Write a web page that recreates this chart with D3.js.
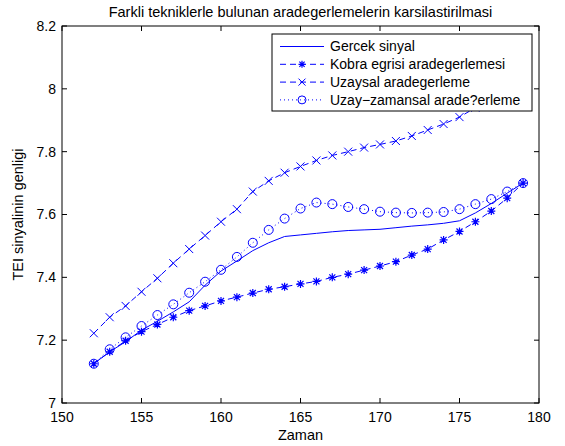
<!DOCTYPE html>
<html>
<head>
<meta charset="utf-8">
<script src="https://cdn.jsdelivr.net/npm/d3@7"></script>
<style>
  body { margin: 0; background: #fff; }
  text { font-family: "Liberation Sans", Arial, sans-serif; fill: #000; }
</style>
</head>
<body>
<svg id="chart" width="565" height="446"></svg>
<script>
const zaman = d3.range(152, 180);

const gercek = [7.125, 7.163, 7.195, 7.232, 7.26, 7.29, 7.322, 7.375, 7.42, 7.452, 7.485, 7.51, 7.53,
  7.535, 7.54, 7.545, 7.549, 7.551, 7.553, 7.558, 7.563, 7.567, 7.572, 7.58, 7.605, 7.635, 7.668, 7.70];

const kobra = [7.125, 7.163, 7.198, 7.227, 7.25, 7.273, 7.294, 7.309, 7.325, 7.337, 7.35, 7.362, 7.37,
  7.379, 7.387, 7.40, 7.41, 7.423, 7.436, 7.45, 7.471, 7.49, 7.519, 7.546, 7.577, 7.611, 7.652, 7.70];

const uzaysal = [7.222, 7.273, 7.309, 7.354, 7.397, 7.445, 7.49, 7.533, 7.577, 7.617, 7.673, 7.707, 7.733,
  7.753, 7.772, 7.788, 7.80, 7.813, 7.823, 7.834, 7.85, 7.869, 7.888, 7.91, 7.94, 7.97, 8.0, 8.03];

const uzayZamansal = [7.125, 7.171, 7.209, 7.245, 7.28, 7.314, 7.351, 7.386, 7.424, 7.465, 7.51, 7.551, 7.587,
  7.619, 7.638, 7.633, 7.624, 7.617, 7.609, 7.606, 7.605, 7.606, 7.608, 7.617, 7.633, 7.649, 7.673, 7.70];

const xTicks = [150, 155, 160, 165, 170, 175, 180];
const yTicks = [7, 7.2, 7.4, 7.6, 7.8, 8, 8.2];

const legendNames = ["Gercek sinyal", "Kobra egrisi aradegerlemesi", "Uzaysal aradegerleme", "Uzay\u2212zamansal arade?erleme"];

const blue = "#0000ff";
const margin = { top: 26, right: 26, bottom: 43, left: 62 };
const width = 565, height = 446;
const plotW = width - margin.left - margin.right;
const plotH = height - margin.top - margin.bottom;

const svg = d3.select("#chart");

const x = d3.scaleLinear().domain([150, 180]).range([0, plotW]);
const y = d3.scaleLinear().domain([7, 8.2]).range([plotH, 0]);

const g = svg.append("g").attr("transform", `translate(${margin.left},${margin.top})`);

const series = [
  { name: legendNames[0], values: gercek, dash: null, marker: null },
  { name: legendNames[1], values: kobra, dash: "6,4", marker: "star" },
  { name: legendNames[2], values: uzaysal, dash: "6,4", marker: "x" },
  { name: legendNames[3], values: uzayZamansal, dash: "1,3", marker: "circle" }
];

const line = d3.line().x(d => x(d[0])).y(d => y(d[1]));

function drawMarker(sel, type, cx, cy, s = 4) {
  if (type === "circle") {
    sel.append("circle").attr("cx", cx).attr("cy", cy).attr("r", s + 0.5)
      .attr("fill", "none").attr("stroke", blue).attr("stroke-width", 1);
  } else if (type === "x") {
    sel.append("path")
      .attr("d", `M${cx - s},${cy - s}L${cx + s},${cy + s}M${cx - s},${cy + s}L${cx + s},${cy - s}`)
      .attr("stroke", blue).attr("stroke-width", 1).attr("fill", "none");
  } else if (type === "star") {
    const d = s * 0.75;
    sel.append("path")
      .attr("d", `M${cx - s},${cy}L${cx + s},${cy}M${cx},${cy - s}L${cx},${cy + s}` +
        `M${cx - d},${cy - d}L${cx + d},${cy + d}M${cx - d},${cy + d}L${cx + d},${cy - d}`)
      .attr("stroke", blue).attr("stroke-width", 1.2).attr("fill", "none");
  }
}

const plot = g.append("g");

series.forEach(s => {
  const pts = zaman.map((t, i) => [t, s.values[i]]);
  plot.append("path")
    .datum(pts)
    .attr("d", line)
    .attr("fill", "none")
    .attr("stroke", blue)
    .attr("stroke-width", 1)
    .attr("stroke-dasharray", s.dash);
  if (s.marker) {
    pts.forEach(p => drawMarker(plot, s.marker, x(p[0]), y(p[1])));
  }
});

// axes box, ticks pointing inward on all four sides
const axisG = g.append("g");
axisG.append("rect").attr("width", plotW).attr("height", plotH)
  .attr("fill", "none").attr("stroke", "#000").attr("stroke-width", 1);

const tickLen = 5;
xTicks.forEach(t => {
  axisG.append("line").attr("x1", x(t)).attr("x2", x(t)).attr("y1", plotH).attr("y2", plotH - tickLen).attr("stroke", "#000");
  axisG.append("line").attr("x1", x(t)).attr("x2", x(t)).attr("y1", 0).attr("y2", tickLen).attr("stroke", "#000");
  axisG.append("text").attr("x", x(t)).attr("y", plotH + 19)
    .attr("text-anchor", "middle").attr("font-size", 14).text(t);
});
yTicks.forEach(t => {
  axisG.append("line").attr("x1", 0).attr("x2", tickLen).attr("y1", y(t)).attr("y2", y(t)).attr("stroke", "#000");
  axisG.append("line").attr("x1", plotW).attr("x2", plotW - tickLen).attr("y1", y(t)).attr("y2", y(t)).attr("stroke", "#000");
  axisG.append("text").attr("x", -6).attr("y", y(t)).attr("dy", "0.35em")
    .attr("text-anchor", "end").attr("font-size", 14).text(t);
});

// titles
svg.append("text").attr("x", margin.left + plotW / 2).attr("y", 17)
  .attr("text-anchor", "middle").attr("font-size", 14.5)
  .text("Farkli tekniklerle bulunan aradegerlemelerin karsilastirilmasi");
svg.append("text").attr("x", margin.left + plotW / 2).attr("y", 440)
  .attr("text-anchor", "middle").attr("font-size", 14.5).text("Zaman");
svg.append("text")
  .attr("transform", `translate(23,${margin.top + plotH / 2}) rotate(-90)`)
  .attr("text-anchor", "middle").attr("font-size", 14.5).text("TEI sinyalinin genligi");

// legend
const leg = svg.append("g");
leg.append("rect").attr("x", 272).attr("y", 34).attr("width", 260).attr("height", 77)
  .attr("fill", "#fff").attr("stroke", "#000").attr("stroke-width", 1);
series.forEach((s, i) => {
  const ly = 46.5 + i * 17.8;
  leg.append("line").attr("x1", 280).attr("x2", 324).attr("y1", ly).attr("y2", ly)
    .attr("stroke", blue).attr("stroke-width", 1).attr("stroke-dasharray", s.dash);
  if (s.marker) drawMarker(leg, s.marker, 302, ly, 3.5);
  leg.append("text").attr("x", 330).attr("y", ly).attr("dy", "0.35em")
    .attr("font-size", 14).text(s.name);
});
</script>
</body>
</html>
